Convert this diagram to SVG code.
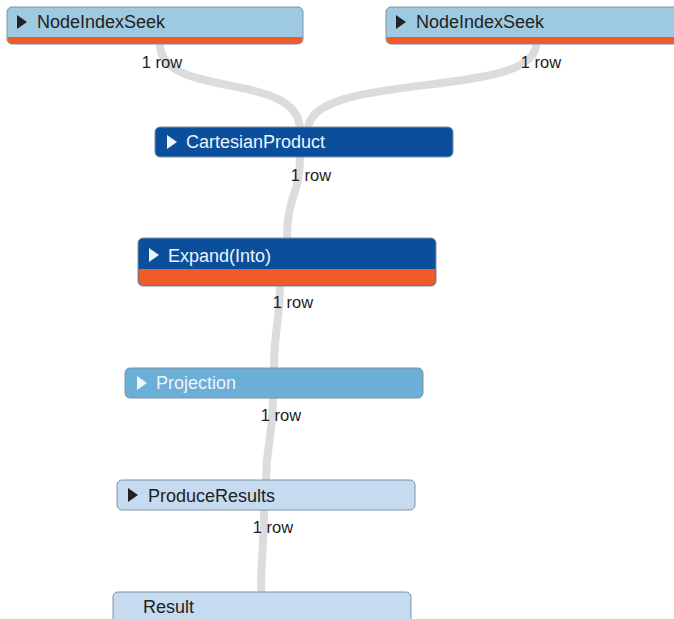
<svg xmlns="http://www.w3.org/2000/svg" width="674" height="619" viewBox="0 0 674 619">
  <style>
    .edge { fill: none; stroke: #dcdcdc; stroke-width: 8; stroke-linecap: butt; }
    .box { stroke: #7d93a6; stroke-width: 1; }
    .lbl { font-family: "Liberation Sans", Arial, sans-serif; font-size: 18px; }
    .rows { font-family: "Liberation Sans", Arial, sans-serif; font-size: 16.5px; fill: #222; text-anchor: middle; }
    .dark { fill: #222; }
    .light { fill: #eef4fa; }
    .bar { fill: #f15a2a; }
  </style>
  <rect width="674" height="619" fill="#ffffff"/>

  <g id="connectors">
    <path class="edge" d="M160,44 C160,100 300,70 300,130"/>
    <path class="edge" d="M536,44 C536,100 308,70 308,130"/>
    <path class="edge" d="M300,157 C300,195 287,195 287,240"/>
    <path class="edge" d="M280,286 C280,325 274,325 274,370"/>
    <path class="edge" d="M273,398 C273,440 266,440 266,482"/>
    <path class="edge" d="M264,510 C264,550 261,550 261,594"/>
  </g>

  <g id="node-seek-left">
    <rect class="box" x="7" y="7" width="296" height="37" rx="5" fill="#9ecae1"/>
    <path class="bar" d="M7.5,37 H302.5 V39 a5,5 0 0 1 -5,5 H12.5 a5,5 0 0 1 -5,-5 Z"/>
    <polygon class="dark" points="17,15 27,22 17,29"/>
    <text class="lbl dark" x="37" y="28">NodeIndexSeek</text>
    <text class="rows" x="162" y="68">1 row</text>
  </g>

  <g id="node-seek-right">
    <rect class="box" x="386" y="7" width="300" height="37" rx="5" fill="#9ecae1"/>
    <path class="bar" d="M386.5,37 H685 V44 H391.5 a5,5 0 0 1 -5,-5 Z"/>
    <polygon class="dark" points="396,15 406,22 396,29"/>
    <text class="lbl dark" x="416" y="28">NodeIndexSeek</text>
    <text class="rows" x="541" y="68">1 row</text>
  </g>

  <g id="node-cartesian">
    <rect class="box" x="155" y="127" width="298" height="30" rx="5" fill="#0b4f9c" stroke="#3b5a7a"/>
    <polygon class="light" points="167,135 177,142 167,149"/>
    <text class="lbl light" x="186" y="148">CartesianProduct</text>
    <text class="rows" x="311" y="181">1 row</text>
  </g>

  <g id="node-expand">
    <rect class="box" x="138" y="238" width="298" height="48" rx="5" fill="#0b4f9c" stroke="#3b5a7a"/>
    <path class="bar" d="M138.5,269 H435.5 V280.5 a5,5 0 0 1 -5,5 H143.5 a5,5 0 0 1 -5,-5 Z"/>
    <polygon class="light" points="149,248 159,255 149,262"/>
    <text class="lbl light" x="168" y="262">Expand(Into)</text>
    <text class="rows" x="293" y="308">1 row</text>
  </g>

  <g id="node-projection">
    <rect class="box" x="125" y="368" width="298" height="30" rx="5" fill="#6baed6" stroke="#5d87a6"/>
    <polygon class="light" points="137,376 147,383 137,390"/>
    <text class="lbl light" x="156" y="389">Projection</text>
    <text class="rows" x="281" y="421">1 row</text>
  </g>

  <g id="node-produce">
    <rect class="box" x="117" y="480" width="298" height="30" rx="5" fill="#c6dbef" stroke="#8fa6ba"/>
    <polygon class="dark" points="128,488 138,495 128,502"/>
    <text class="lbl dark" x="148" y="502">ProduceResults</text>
    <text class="rows" x="273" y="533">1 row</text>
  </g>

  <g id="node-result">
    <rect class="box" x="113" y="592" width="298" height="40" rx="5" fill="#c6dbef" stroke="#8fa6ba"/>
    <text class="lbl dark" x="143" y="613">Result</text>
  </g>
</svg>
